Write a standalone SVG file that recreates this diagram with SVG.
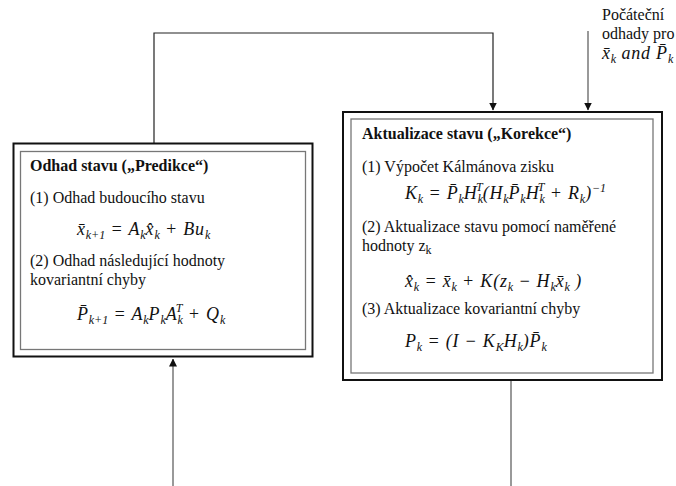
<svg xmlns="http://www.w3.org/2000/svg" width="676" height="486" viewBox="0 0 676 486">
<style>
text{font-family:"Liberation Serif","Times New Roman",serif;font-size:16px;fill:#111}
.b{font-weight:bold}
.m{font-style:italic;font-size:18px;letter-spacing:0.8px}
.s{font-size:12px;letter-spacing:0}
.outer{fill:#fff;stroke:#111;stroke-width:2}
.inner{fill:none;stroke:#777;stroke-width:1.3}
.ln{fill:none;stroke:#555;stroke-width:1.2}
.lnk{fill:none;stroke:#222;stroke-width:1.2}
</style>
<defs>
<marker id="ah" markerWidth="8" markerHeight="8" refX="7.5" refY="4" orient="auto" markerUnits="userSpaceOnUse">
<path d="M0,0 L8,4 L0,8 Z" fill="#111"/>
</marker>
</defs>
<g id="connectors">
<polyline class="lnk" points="154,143 154,33 493,33 493,110" marker-end="url(#ah)"/>
<line class="ln" x1="588" y1="31" x2="588" y2="110" marker-end="url(#ah)"/>
<line class="ln" x1="173" y1="486" x2="173" y2="359" marker-end="url(#ah)"/>
<line class="ln" x1="511" y1="381" x2="511" y2="486"/>
</g>
<g id="initial-label">
<text x="602" y="20" font-size="15.5">Počáteční</text>
<text x="602" y="39" font-size="15.5">odhady pro</text>
<text x="602" y="59" class="m" font-size="16">x̄<tspan class="s" dy="4">k</tspan><tspan dy="-4">  and P̄</tspan><tspan class="s" dy="4">k</tspan></text>
</g>
<g id="predict">
<rect class="outer" x="13.5" y="143.5" width="299" height="213"/>
<rect class="inner" x="20.5" y="151.5" width="285" height="198"/>
<text x="30" y="171" class="b">Odhad stavu („Predikce“)</text>
<text x="30" y="203">(1) Odhad budoucího stavu</text>
<text x="77" y="235" class="m">x̄<tspan class="s" dy="4">k+1</tspan><tspan dy="-4"> = A</tspan><tspan class="s" dy="4">k</tspan><tspan dy="-4">x̂</tspan><tspan class="s" dy="4">k</tspan><tspan dy="-4"> + Bu</tspan><tspan class="s" dy="4">k</tspan></text>
<text x="30" y="266">(2) Odhad následující hodnoty</text>
<text x="30" y="285">kovariantní chyby</text>
<text x="77" y="320" class="m">P̄<tspan class="s" dy="4">k+1</tspan><tspan dy="-4"> = A</tspan><tspan class="s" dy="4">k</tspan><tspan dy="-4">P</tspan><tspan class="s" dy="4">k</tspan><tspan dy="-4">A</tspan><tspan class="s" dy="4">k</tspan><tspan class="s" dx="-7" dy="-12">T</tspan><tspan dy="8"> + Q</tspan><tspan class="s" dy="4">k</tspan></text>
</g>
<g id="correct">
<rect class="outer" x="343" y="112" width="319" height="268"/>
<rect class="inner" x="351" y="119" width="302" height="254"/>
<text x="362" y="139" class="b">Aktualizace stavu („Korekce“)</text>
<text x="362" y="172">(1) Výpočet Kálmánova zisku</text>
<text x="405" y="199" class="m">K<tspan class="s" dy="4">k</tspan><tspan dy="-4"> =  P̄</tspan><tspan class="s" dy="4">k</tspan><tspan dy="-4">H</tspan><tspan class="s" dy="4">k</tspan><tspan class="s" dx="-7" dy="-12">T</tspan><tspan dy="8">(H</tspan><tspan class="s" dy="4">k</tspan><tspan dy="-4">P̄</tspan><tspan class="s" dy="4">k</tspan><tspan dy="-4">H</tspan><tspan class="s" dy="4">k</tspan><tspan class="s" dx="-7" dy="-12">T</tspan><tspan dy="8"> +  R</tspan><tspan class="s" dy="4">k</tspan><tspan dy="-4">)</tspan><tspan class="s" dy="-7">−1</tspan></text>
<text x="362" y="232">(2) Aktualizace stavu pomocí naměřené</text>
<text x="362" y="251">hodnoty z<tspan class="s" dy="3">k</tspan></text>
<text x="405" y="287" class="m">x̂<tspan class="s" dy="4">k</tspan><tspan dy="-4"> =  x̄</tspan><tspan class="s" dy="4">k</tspan><tspan dy="-4"> + K(z</tspan><tspan class="s" dy="4">k</tspan><tspan dy="-4"> −  H</tspan><tspan class="s" dy="4">k</tspan><tspan dy="-4">x̄</tspan><tspan class="s" dy="4">k</tspan><tspan dy="-4"> )</tspan></text>
<text x="362" y="314">(3) Aktualizace kovariantní chyby</text>
<text x="405" y="347" class="m">P<tspan class="s" dy="4">k</tspan><tspan dy="-4"> = (I −  K</tspan><tspan class="s" dy="4">K</tspan><tspan dy="-4">H</tspan><tspan class="s" dy="4">k</tspan><tspan dy="-4">)P̄</tspan><tspan class="s" dy="4">k</tspan></text>
</g>
</svg>
